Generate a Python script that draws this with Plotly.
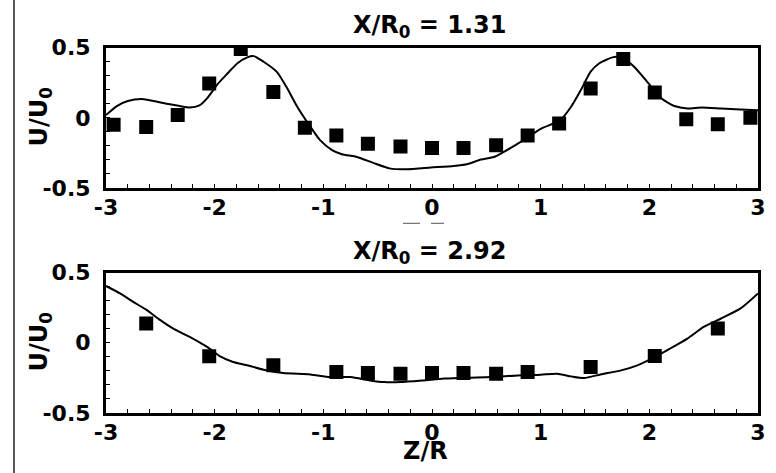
import plotly.graph_objects as go

# ---- data -------------------------------------------------------------
# station X/R0 = 1.31 : measured points
top_pts_z = [-2.93, -2.63, -2.34, -2.05, -1.76, -1.46, -1.17, -0.88, -0.59, -0.29, 0.0,
             0.29, 0.59, 0.88, 1.17, 1.46, 1.76, 2.05, 2.34, 2.63, 2.93]
top_pts_u = [-0.05, -0.065, 0.02, 0.245, 0.49, 0.185, -0.07, -0.125, -0.185, -0.205, -0.215,
             -0.215, -0.195, -0.125, -0.04, 0.21, 0.42, 0.18, -0.01, -0.045, 0.0]
# station X/R0 = 1.31 : computed profile
top_line_z = [-3.0, -2.90, -2.80, -2.67, -2.56, -2.44, -2.32, -2.23, -2.14, -2.07, -1.98,
              -1.89, -1.79, -1.70, -1.64, -1.55, -1.43, -1.34, -1.24, -1.14, -1.03, -0.92,
              -0.83, -0.69, -0.54, -0.38, -0.23, -0.01, 0.20, 0.32, 0.45, 0.57, 0.66, 0.79,
              0.88, 1.00, 1.18, 1.28, 1.37, 1.46, 1.54, 1.66, 1.74, 1.86, 1.98, 2.11, 2.23,
              2.35, 2.48, 2.66, 2.84, 3.0]
top_line_u = [0.02, 0.084, 0.12, 0.134, 0.12, 0.10, 0.084, 0.074, 0.089, 0.139, 0.234,
              0.31, 0.389, 0.431, 0.44, 0.40, 0.329, 0.221, 0.079, -0.04, -0.159, -0.23,
              -0.259, -0.279, -0.321, -0.362, -0.366, -0.354, -0.343, -0.331, -0.297, -0.279,
              -0.243, -0.183, -0.14, -0.078, -0.016, 0.079, 0.198, 0.329, 0.389, 0.431, 0.436,
              0.364, 0.257, 0.139, 0.084, 0.067, 0.074, 0.067, 0.06, 0.055]

# station X/R0 = 2.92 : measured points
bot_pts_z = [-2.63, -2.05, -1.46, -0.88, -0.59, -0.29, 0.0, 0.29, 0.59, 0.88, 1.46, 2.05, 2.63]
bot_pts_u = [0.137, -0.097, -0.161, -0.209, -0.216, -0.221, -0.216, -0.216, -0.221, -0.209,
             -0.173, -0.094, 0.101]
# station X/R0 = 2.92 : computed profile
bot_line_z = [-3.0, -2.87, -2.75, -2.63, -2.50, -2.38, -2.23, -2.07, -1.95, -1.83, -1.70,
              -1.55, -1.37, -1.12, -0.94, -0.75, -0.57, -0.44, -0.29, -0.08, 0.11, 0.32,
              0.54, 0.79, 1.0, 1.15, 1.28, 1.40, 1.55, 1.74, 1.89, 2.04, 2.19, 2.35, 2.50,
              2.66, 2.84, 3.0]
bot_line_u = [0.405, 0.352, 0.292, 0.236, 0.161, 0.10, 0.042, -0.03, -0.097, -0.137, -0.161,
              -0.192, -0.216, -0.226, -0.245, -0.245, -0.269, -0.281, -0.281, -0.269, -0.256,
              -0.249, -0.245, -0.233, -0.228, -0.221, -0.24, -0.252, -0.226, -0.197, -0.161,
              -0.106, -0.042, 0.03, 0.113, 0.173, 0.245, 0.352]

x_ticks = [-3, -2, -1, 0, 1, 2, 3]
x_tick_text = ["-3", "-2", "-1", "0", "1", "2", "3"]
y_ticks = [-0.5, 0, 0.5]
y_tick_text = ["-0.5", "0", "0.5"]
titles = ["X/R<sub>0</sub> = 1.31", "X/R<sub>0</sub> = 2.92"]
y_title = "U/U<sub>0</sub>"
x_title = "Z/R"

# ---- figure -----------------------------------------------------------
W, H = 776, 473
FONT = "DejaVu Sans"

fig = go.Figure()

def add_station(xa, ya, pz, pu, lz, lu):
    fig.add_trace(go.Scatter(x=lz, y=lu, mode="lines", xaxis=xa, yaxis=ya,
                             line=dict(color="black", width=2, shape="spline", smoothing=0.6),
                             showlegend=False, hoverinfo="skip"))
    fig.add_trace(go.Scatter(x=pz, y=pu, mode="markers", xaxis=xa, yaxis=ya,
                             marker=dict(symbol="square", size=14, color="black"),
                             showlegend=False))

add_station("x", "y", top_pts_z, top_pts_u, top_line_z, top_line_u)
add_station("x2", "y2", bot_pts_z, bot_pts_u, bot_line_z, bot_line_u)

x_dom = [106 / W, 758 / W]
top_dom = [1 - 188 / H, 1 - 47.7 / H]
bot_dom = [1 - 412.8 / H, 1 - 272.7 / H]

tick_font = dict(family=FONT, size=22, color="black", weight="bold")

def xaxis_cfg(anchor):
    return dict(domain=x_dom, anchor=anchor, range=[-3, 3], showgrid=False, zeroline=False,
                automargin=False,
                showline=True, linewidth=3, linecolor="black", mirror=True,
                tickmode="array", tickvals=x_ticks, ticktext=x_tick_text,
                ticks="inside", ticklen=4, tickwidth=1, tickcolor="black",
                ticklabelstandoff=-2, tickfont=tick_font,
                minor=dict(tickmode="linear", tick0=0, dtick=0.2, ticks="inside",
                           ticklen=4, tickwidth=1, tickcolor="black"))

def yaxis_cfg(anchor, dom):
    return dict(domain=dom, anchor=anchor, range=[-0.5, 0.5], showgrid=False, zeroline=False,
                automargin=False,
                showline=True, linewidth=3, linecolor="black", mirror=True,
                tickmode="array", tickvals=y_ticks, ticktext=y_tick_text,
                ticks="inside", ticklen=4, tickwidth=1, tickcolor="black",
                ticklabelstandoff=8, tickfont=tick_font,
                minor=dict(tickmode="linear", tick0=0, dtick=0.1, ticks="inside",
                           ticklen=4, tickwidth=1, tickcolor="black"))

title_font = dict(family=FONT, size=24, color="black", weight="bold")

annotations = [
    dict(text=titles[0], x=429 / W, y=1 - 27 / H, xref="paper", yref="paper",
         xanchor="center", yanchor="middle", showarrow=False, font=title_font),
    dict(text=titles[1], x=429 / W, y=1 - 252 / H, xref="paper", yref="paper",
         xanchor="center", yanchor="middle", showarrow=False, font=title_font),
    dict(text=y_title, x=40 / W, y=1 - 117.5 / H, xref="paper", yref="paper",
         xanchor="center", yanchor="middle", textangle=-90, showarrow=False, font=title_font),
    dict(text=y_title, x=40 / W, y=1 - 342.5 / H, xref="paper", yref="paper",
         xanchor="center", yanchor="middle", textangle=-90, showarrow=False, font=title_font),
    dict(text=x_title, x=425 / W, y=1 - 451 / H, xref="paper", yref="paper",
         xanchor="center", yanchor="middle", showarrow=False, font=title_font),
]

shapes = [
    # thin rule down the left side of the page
    dict(type="line", xref="paper", yref="paper", x0=14 / W, x1=14 / W, y0=0, y1=1,
         line=dict(color="#222222", width=1.5)),
    # short strokes beside the centre tick label of the upper panel
    dict(type="line", xref="paper", yref="paper", x0=403 / W, x1=420 / W,
         y0=1 - 223.3 / H, y1=1 - 223.3 / H, line=dict(color="#555555", width=1)),
    dict(type="line", xref="paper", yref="paper", x0=431 / W, x1=444 / W,
         y0=1 - 223.3 / H, y1=1 - 223.3 / H, line=dict(color="#555555", width=1)),
]

fig.update_layout(
    width=W, height=H, autosize=False,
    margin=dict(l=0, r=0, t=0, b=0, pad=0),
    paper_bgcolor="white", plot_bgcolor="white",
    xaxis=xaxis_cfg("y"), yaxis=yaxis_cfg("x", top_dom),
    xaxis2=xaxis_cfg("y2"), yaxis2=yaxis_cfg("x2", bot_dom),
    annotations=annotations, shapes=shapes,
    font=dict(family=FONT, color="black"),
)

fig.write_html("out.html")
